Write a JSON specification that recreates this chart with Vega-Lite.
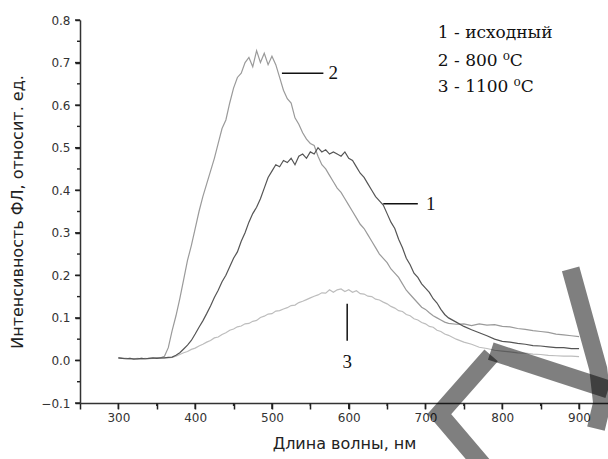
{
  "$schema": "https://vega.github.io/schema/vega-lite/v6.json",
  "width": 528,
  "height": 383,
  "autosize": "none",
  "padding": {"left": 80, "top": 20, "right": 0, "bottom": 56},
  "background": "white",
  "config": {
    "view": {"stroke": null},
    "axis": {
      "grid": false,
      "ticks": true,
      "domainColor": "#333333",
      "domainWidth": 1.5,
      "tickColor": "#222222",
      "tickWidth": 1.5,
      "labelColor": "#333333",
      "labelFont": "DejaVu Sans",
      "labelFontSize": 12,
      "titleFont": "DejaVu Sans",
      "titleFontSize": 16,
      "titleFontWeight": "normal",
      "titleColor": "#222222"
    },
    "axisX": {
      "title": "Длина волны, нм",
      "values": [300,350,400,450,500,550,600,650,700,750,800,850,900],
      "labelExpr": "datum.value % 100 === 0 ? datum.label : ''",
      "tickSize": 6,
      "labelPadding": 3,
      "titlePadding": 12
    },
    "axisY": {
      "title": "Интенсивность  ФЛ, относит. ед.",
      "values": [-0.1,-0.05,0,0.05,0.1,0.15,0.2,0.25,0.3,0.35,0.4,0.45,0.5,0.55,0.6,0.65,0.7,0.75,0.8],
      "labelExpr": "abs(round(datum.value*20)) % 2 === 0 ? format(datum.value, '.1f') : ''",
      "tickSize": 5,
      "labelPadding": 5,
      "titlePadding": 15
    }
  },
  "datasets": {
    "spec": [
      {"w":300,"a":0.006,"b":0.006,"c":0.006},{"w":305,"a":0.005,"b":0.005,"c":0.005},{"w":310,"a":0.004,"b":0.005,"c":0.004},{"w":315,"a":0.005,"b":0.004,"c":0.005},{"w":320,"a":0.003,"b":0.004,"c":0.004},{"w":325,"a":0.004,"b":0.003,"c":0.005},{"w":330,"a":0.005,"b":0.005,"c":0.004},{"w":335,"a":0.004,"b":0.004,"c":0.005},{"w":340,"a":0.005,"b":0.005,"c":0.004},{"w":345,"a":0.006,"b":0.005,"c":0.005},{"w":350,"a":0.005,"b":0.006,"c":0.006},{"w":355,"a":0.006,"b":0.006,"c":0.005},{"w":360,"a":0.006,"b":0.010,"c":0.006},{"w":365,"a":0.007,"b":0.030,"c":0.006},{"w":370,"a":0.008,"b":0.070,"c":0.007},{"w":375,"a":0.012,"b":0.105,"c":0.010},{"w":380,"a":0.018,"b":0.145,"c":0.014},{"w":385,"a":0.027,"b":0.190,"c":0.018},{"w":390,"a":0.036,"b":0.235,"c":0.021},{"w":395,"a":0.047,"b":0.270,"c":0.026},{"w":400,"a":0.062,"b":0.310,"c":0.029},{"w":405,"a":0.078,"b":0.350,"c":0.034},{"w":410,"a":0.093,"b":0.385,"c":0.038},{"w":415,"a":0.110,"b":0.415,"c":0.043},{"w":420,"a":0.128,"b":0.445,"c":0.047},{"w":425,"a":0.148,"b":0.475,"c":0.053},{"w":430,"a":0.165,"b":0.510,"c":0.055},{"w":435,"a":0.185,"b":0.545,"c":0.061},{"w":440,"a":0.200,"b":0.565,"c":0.065},{"w":445,"a":0.220,"b":0.605,"c":0.071},{"w":450,"a":0.240,"b":0.640,"c":0.074},{"w":455,"a":0.255,"b":0.665,"c":0.079},{"w":460,"a":0.280,"b":0.675,"c":0.081},{"w":465,"a":0.300,"b":0.700,"c":0.086},{"w":470,"a":0.325,"b":0.712,"c":0.087},{"w":475,"a":0.345,"b":0.690,"c":0.092},{"w":480,"a":0.360,"b":0.728,"c":0.094},{"w":485,"a":0.380,"b":0.700,"c":0.101},{"w":490,"a":0.405,"b":0.722,"c":0.104},{"w":495,"a":0.430,"b":0.695,"c":0.109},{"w":500,"a":0.445,"b":0.715,"c":0.110},{"w":505,"a":0.460,"b":0.695,"c":0.116},{"w":510,"a":0.455,"b":0.665,"c":0.117},{"w":515,"a":0.470,"b":0.635,"c":0.121},{"w":520,"a":0.465,"b":0.615,"c":0.124},{"w":525,"a":0.475,"b":0.605,"c":0.129},{"w":530,"a":0.460,"b":0.570,"c":0.130},{"w":535,"a":0.480,"b":0.555,"c":0.136},{"w":540,"a":0.485,"b":0.535,"c":0.139},{"w":545,"a":0.475,"b":0.520,"c":0.143},{"w":550,"a":0.490,"b":0.510,"c":0.147},{"w":555,"a":0.485,"b":0.505,"c":0.151},{"w":560,"a":0.500,"b":0.480,"c":0.154},{"w":565,"a":0.490,"b":0.460,"c":0.159},{"w":570,"a":0.495,"b":0.450,"c":0.158},{"w":575,"a":0.485,"b":0.435,"c":0.166},{"w":580,"a":0.490,"b":0.420,"c":0.160},{"w":585,"a":0.485,"b":0.405,"c":0.166},{"w":590,"a":0.480,"b":0.395,"c":0.168},{"w":595,"a":0.490,"b":0.380,"c":0.162},{"w":600,"a":0.475,"b":0.365,"c":0.166},{"w":605,"a":0.470,"b":0.350,"c":0.160},{"w":610,"a":0.455,"b":0.335,"c":0.164},{"w":615,"a":0.440,"b":0.320,"c":0.157},{"w":620,"a":0.430,"b":0.310,"c":0.156},{"w":625,"a":0.415,"b":0.295,"c":0.151},{"w":630,"a":0.400,"b":0.280,"c":0.150},{"w":635,"a":0.385,"b":0.265,"c":0.144},{"w":640,"a":0.375,"b":0.250,"c":0.142},{"w":645,"a":0.365,"b":0.240,"c":0.137},{"w":650,"a":0.345,"b":0.230,"c":0.133},{"w":655,"a":0.325,"b":0.215,"c":0.127},{"w":660,"a":0.310,"b":0.205,"c":0.123},{"w":665,"a":0.285,"b":0.195,"c":0.117},{"w":670,"a":0.265,"b":0.180,"c":0.115},{"w":675,"a":0.240,"b":0.165,"c":0.108},{"w":680,"a":0.225,"b":0.155,"c":0.105},{"w":685,"a":0.205,"b":0.145,"c":0.098},{"w":690,"a":0.195,"b":0.135,"c":0.095},{"w":695,"a":0.180,"b":0.125,"c":0.089},{"w":700,"a":0.170,"b":0.120,"c":0.086},{"w":705,"a":0.160,"b":0.112,"c":0.080},{"w":710,"a":0.145,"b":0.105,"c":0.078},{"w":715,"a":0.135,"b":0.100,"c":0.071},{"w":720,"a":0.120,"b":0.095,"c":0.068},{"w":725,"a":0.108,"b":0.090,"c":0.062},{"w":730,"a":0.100,"b":0.087,"c":0.059},{"w":740,"a":0.090,"b":0.085,"c":0.050},{"w":750,"a":0.080,"b":0.086,"c":0.043},{"w":760,"a":0.072,"b":0.082,"c":0.038},{"w":770,"a":0.065,"b":0.086,"c":0.031},{"w":780,"a":0.058,"b":0.083,"c":0.028},{"w":790,"a":0.050,"b":0.084,"c":0.024},{"w":800,"a":0.045,"b":0.080,"c":0.022},{"w":810,"a":0.043,"b":0.079,"c":0.020},{"w":820,"a":0.040,"b":0.075,"c":0.018},{"w":830,"a":0.038,"b":0.073,"c":0.017},{"w":840,"a":0.035,"b":0.070,"c":0.015},{"w":850,"a":0.034,"b":0.068,"c":0.014},{"w":860,"a":0.032,"b":0.066,"c":0.012},{"w":870,"a":0.030,"b":0.062,"c":0.011},{"w":880,"a":0.030,"b":0.060,"c":0.010},{"w":890,"a":0.028,"b":0.058,"c":0.010},{"w":900,"a":0.028,"b":0.056,"c":0.009}
    ],
    "xmajor": [{"w":300},{"w":400},{"w":500},{"w":600},{"w":700},{"w":800},{"w":900}],
    "xminor": [{"w":350},{"w":450},{"w":550},{"w":650},{"w":750},{"w":850}],
    "ymajor": [{"v":-0.1},{"v":0},{"v":0.1},{"v":0.2},{"v":0.3},{"v":0.4},{"v":0.5},{"v":0.6},{"v":0.7},{"v":0.8}],
    "yminor": [{"v":-0.05},{"v":0.05},{"v":0.15},{"v":0.25},{"v":0.35},{"v":0.45},{"v":0.55},{"v":0.65},{"v":0.75}],
    "leaders": [
      {"x":513,"x2":567,"y":0.675,"y2":0.675},
      {"x":645,"x2":690,"y":0.368,"y2":0.368},
      {"x":598,"x2":598,"y":0.133,"y2":0.046}
    ],
    "nums": [
      {"x":580,"y":0.675,"t":"2"},
      {"x":707,"y":0.368,"t":"1"},
      {"x":598,"y":-0.003,"t":"3"}
    ],
    "legend": [
      {"x":716,"y":0.770,"t":"1 - исходный"},
      {"x":716,"y":0.704,"t":"2 - 800 ⁰C"},
      {"x":716,"y":0.643,"t":"3 -  1100 ⁰C"}
    ],
    "mark": [
      {"g":"A","o":1,"x":785.5,"y":0.012},
      {"g":"A","o":2,"x":718,"y":-0.126},
      {"g":"A","o":3,"x":792,"y":-0.283},
      {"g":"B","o":1,"x":785,"y":0.022},
      {"g":"B","o":2,"x":938,"y":-0.068},
      {"g":"C","o":1,"x":889,"y":0.215},
      {"g":"C","o":2,"x":925,"y":-0.02},
      {"g":"C","o":3,"x":930,"y":-0.10},
      {"g":"C","o":4,"x":922,"y":-0.16}
    ]
  },
  "layer": [
    {
      "data": {"name": "spec"},
      "transform": [{"fold": ["c", "b", "a"], "as": ["curve", "v"]}],
      "mark": {"type": "line", "strokeWidth": 1.2, "interpolate": "linear"},
      "encoding": {
        "x": {
          "field": "w", "type": "quantitative", "title": "Длина волны, нм",
          "scale": {"domain": [250, 937.7], "nice": false, "zero": false}
        },
        "y": {
          "field": "v", "type": "quantitative", "title": "Интенсивность  ФЛ, относит. ед.",
          "scale": {"domain": [-0.1, 0.8], "nice": false, "zero": false}
        },
        "color": {
          "field": "curve", "type": "nominal",
          "scale": {"domain": ["a", "b", "c"], "range": ["#555555", "#9a9a9a", "#bdbdbd"]},
          "legend": null
        },
        "order": {"field": "w", "type": "quantitative"}
      }
    },
    {
      "data": {"name": "xmajor"},
      "mark": {"type": "tick", "orient": "vertical", "size": 6, "thickness": 1.4, "yOffset": 3, "color": "#222222", "opacity": 1},
      "encoding": {
        "x": {"field": "w", "type": "quantitative", "title": "Длина волны, нм"},
        "y": {"datum": -0.1, "type": "quantitative", "title": "Интенсивность  ФЛ, относит. ед."}
      }
    },
    {
      "data": {"name": "xminor"},
      "mark": {"type": "tick", "orient": "vertical", "size": 3, "thickness": 1.4, "yOffset": 1.5, "color": "#222222", "opacity": 1},
      "encoding": {
        "x": {"field": "w", "type": "quantitative", "title": "Длина волны, нм"},
        "y": {"datum": -0.1, "type": "quantitative", "title": "Интенсивность  ФЛ, относит. ед."}
      }
    },
    {
      "data": {"name": "ymajor"},
      "mark": {"type": "tick", "orient": "horizontal", "size": 5, "thickness": 1.4, "xOffset": -2.5, "color": "#222222", "opacity": 1},
      "encoding": {
        "x": {"datum": 250, "type": "quantitative", "title": "Длина волны, нм"},
        "y": {"field": "v", "type": "quantitative", "title": "Интенсивность  ФЛ, относит. ед."}
      }
    },
    {
      "data": {"name": "yminor"},
      "mark": {"type": "tick", "orient": "horizontal", "size": 3, "thickness": 1.4, "xOffset": -1.5, "color": "#222222", "opacity": 1},
      "encoding": {
        "x": {"datum": 250, "type": "quantitative", "title": "Длина волны, нм"},
        "y": {"field": "v", "type": "quantitative", "title": "Интенсивность  ФЛ, относит. ед."}
      }
    },
    {
      "data": {"name": "leaders"},
      "mark": {"type": "rule", "color": "#111111", "strokeWidth": 1.5},
      "encoding": {
        "x": {"field": "x", "type": "quantitative", "title": "Длина волны, нм"},
        "x2": {"field": "x2"},
        "y": {"field": "y", "type": "quantitative", "title": "Интенсивность  ФЛ, относит. ед."},
        "y2": {"field": "y2"}
      }
    },
    {
      "data": {"name": "nums"},
      "mark": {"type": "text", "font": "Liberation Serif", "fontSize": 19, "color": "#111111", "align": "center", "baseline": "middle"},
      "encoding": {
        "x": {"field": "x", "type": "quantitative", "title": "Длина волны, нм"},
        "y": {"field": "y", "type": "quantitative", "title": "Интенсивность  ФЛ, относит. ед."},
        "text": {"field": "t"}
      }
    },
    {
      "data": {"name": "legend"},
      "mark": {"type": "text", "font": "DejaVu Serif", "fontSize": 17, "color": "#111111", "align": "left", "baseline": "middle"},
      "encoding": {
        "x": {"field": "x", "type": "quantitative", "title": "Длина волны, нм"},
        "y": {"field": "y", "type": "quantitative", "title": "Интенсивность  ФЛ, относит. ед."},
        "text": {"field": "t"}
      }
    },
    {
      "data": {"name": "mark"},
      "mark": {"type": "line", "color": "#000000", "opacity": 0.5, "strokeWidth": 18, "strokeCap": "butt", "strokeJoin": "miter"},
      "encoding": {
        "x": {"field": "x", "type": "quantitative", "title": "Длина волны, нм"},
        "y": {"field": "y", "type": "quantitative", "title": "Интенсивность  ФЛ, относит. ед."},
        "detail": {"field": "g"},
        "order": {"field": "o", "type": "quantitative"}
      }
    }
  ]
}
